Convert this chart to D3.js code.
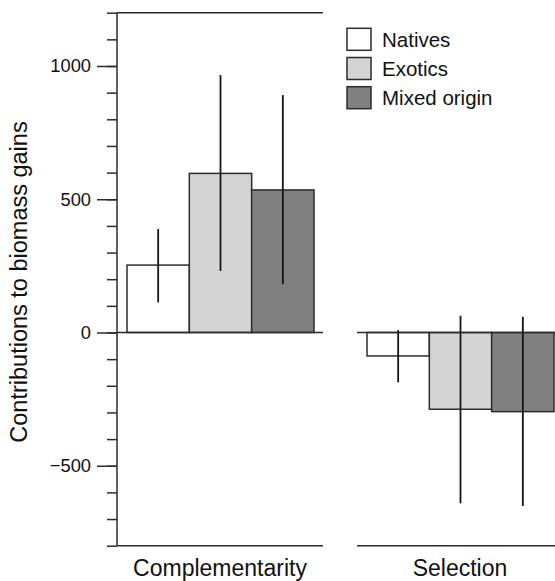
<!DOCTYPE html>
<html>
<head>
<meta charset="utf-8">
<script src="https://cdn.jsdelivr.net/npm/d3@7"></script>
<style>
  body { margin: 0; background: #fff; }
  text { font-family: "Liberation Sans", Arial, sans-serif; fill: #111; }
</style>
</head>
<body>
<div id="chart"></div>
<script>
// groups along the x axis and the series inside each group
const groups = ["Complementarity", "Selection"];
const series = ["Natives", "Exotics", "Mixed origin"];
const seriesColors = ["#ffffff", "#d4d4d4", "#808080"];

// bar heights and error bar ends, one array per series (Complementarity, Selection)
const nativesValues = [253, -88];
const nativesLow = [113, -187];
const nativesHigh = [388, 9];
const exoticsValues = [597, -288];
const exoticsLow = [231, -641];
const exoticsHigh = [966, 63];
const mixedValues = [535, -297];
const mixedLow = [181, -651];
const mixedHigh = [891, 59];

const majorTicks = [-500, 0, 500, 1000];
const minorTicks = d3.range(-800, 1201, 100);

const width = 555, height = 581;

const svg = d3.select('#chart')
    .append('svg')
        .attr('width', width)
        .attr('height', height);

var yScale = d3.scaleLinear()
    .domain([-800, 1200])
    .range([545.7, 12.7]);

var xGroup = d3.scaleBand()
    .domain(groups)
    .range([117, 563])
    .paddingInner(34 / 240)
    .paddingOuter(0);

var xSeries = d3.scaleBand()
    .domain(series)
    .range([10, 197]);

const table = [];
const vals = [nativesValues, exoticsValues, mixedValues];
const lows = [nativesLow, exoticsLow, mixedLow];
const highs = [nativesHigh, exoticsHigh, mixedHigh];
groups.forEach((g, gi) => {
    series.forEach((s, si) => {
        table.push({
            group: g,
            series: s,
            color: seriesColors[si],
            value: vals[si][gi],
            low: lows[si][gi],
            high: highs[si][gi]
        });
    });
});

const lineColor = '#2b2b2b';

// bars
svg.append('g')
    .selectAll('rect')
    .data(table)
    .enter()
    .append('rect')
        .attr('x', d => xGroup(d.group) + xSeries(d.series))
        .attr('y', d => yScale(Math.max(0, d.value)))
        .attr('width', xSeries.bandwidth())
        .attr('height', d => Math.abs(yScale(d.value) - yScale(0)))
        .style('fill', d => d.color)
        .style('stroke', lineColor)
        .style('stroke-width', 1.5);

// error bars
svg.append('g')
    .selectAll('line')
    .data(table)
    .enter()
    .append('line')
        .attr('x1', d => xGroup(d.group) + xSeries(d.series) + xSeries.bandwidth() / 2)
        .attr('x2', d => xGroup(d.group) + xSeries(d.series) + xSeries.bandwidth() / 2)
        .attr('y1', d => yScale(d.low))
        .attr('y2', d => yScale(d.high))
        .style('stroke', '#151515')
        .style('stroke-width', 1.8);

// zero line and bottom line, one segment per group
groups.forEach(g => {
    [0, -800].forEach(v => {
        svg.append('line')
            .attr('x1', xGroup(g))
            .attr('x2', xGroup(g) + xGroup.bandwidth())
            .attr('y1', yScale(v))
            .attr('y2', yScale(v))
            .style('stroke', lineColor)
            .style('stroke-width', 1.5);
    });
});

// top line
svg.append('line')
    .attr('x1', 117)
    .attr('x2', xGroup(groups[0]) + xGroup.bandwidth())
    .attr('y1', yScale(1200))
    .attr('y2', yScale(1200))
    .style('stroke', lineColor)
    .style('stroke-width', 1.5);

// y axis: minor and major ticks
const minorAxis = svg.append('g')
    .attr('transform', 'translate(117,0)')
    .call(d3.axisLeft(yScale).tickValues(minorTicks).tickSize(10).tickSizeOuter(0).tickFormat(''));
minorAxis.select('.domain').remove();

const majorAxis = svg.append('g')
    .attr('transform', 'translate(117,0)')
    .call(d3.axisLeft(yScale).tickValues(majorTicks).tickSize(20).tickSizeOuter(0).tickPadding(6)
        .tickFormat(d => d < 0 ? '\u2212' + Math.abs(d) : String(d)));
majorAxis.select('.domain').remove();
majorAxis.selectAll('text')
    .style('font-size', '18.3px')
    .style('font-family', '"Liberation Sans", Arial, sans-serif')
    .style('fill', '#111');

svg.selectAll('.tick line')
    .style('stroke', lineColor)
    .style('stroke-width', 1.5);

svg.append('line')
    .attr('x1', 117)
    .attr('x2', 117)
    .attr('y1', yScale(1200))
    .attr('y2', yScale(-800))
    .style('stroke', lineColor)
    .style('stroke-width', 1.5);

// group labels
svg.append('g')
    .selectAll('text')
    .data(groups)
    .enter()
    .append('text')
        .attr('x', d => xGroup(d) + xGroup.bandwidth() / 2)
        .attr('y', 576)
        .attr('text-anchor', 'middle')
        .style('font-size', '23px')
        .text(d => d);

// y axis title
svg.append('text')
    .attr('transform', 'translate(27,282) rotate(-90)')
    .attr('text-anchor', 'middle')
    .style('font-size', '23.5px')
    .text('Contributions to biomass gains');

// legend
const legend = svg.append('g')
    .selectAll('g')
    .data(series)
    .enter()
    .append('g')
        .attr('transform', (d, i) => 'translate(347,' + (28.3 + i * 29.2) + ')');

legend.append('rect')
    .attr('width', 24)
    .attr('height', 22)
    .style('fill', (d, i) => seriesColors[i])
    .style('stroke', lineColor)
    .style('stroke-width', 1.5);

legend.append('text')
    .attr('x', 35)
    .attr('y', 18.4)
    .style('font-size', '20.5px')
    .text(d => d);
</script>
</body>
</html>
